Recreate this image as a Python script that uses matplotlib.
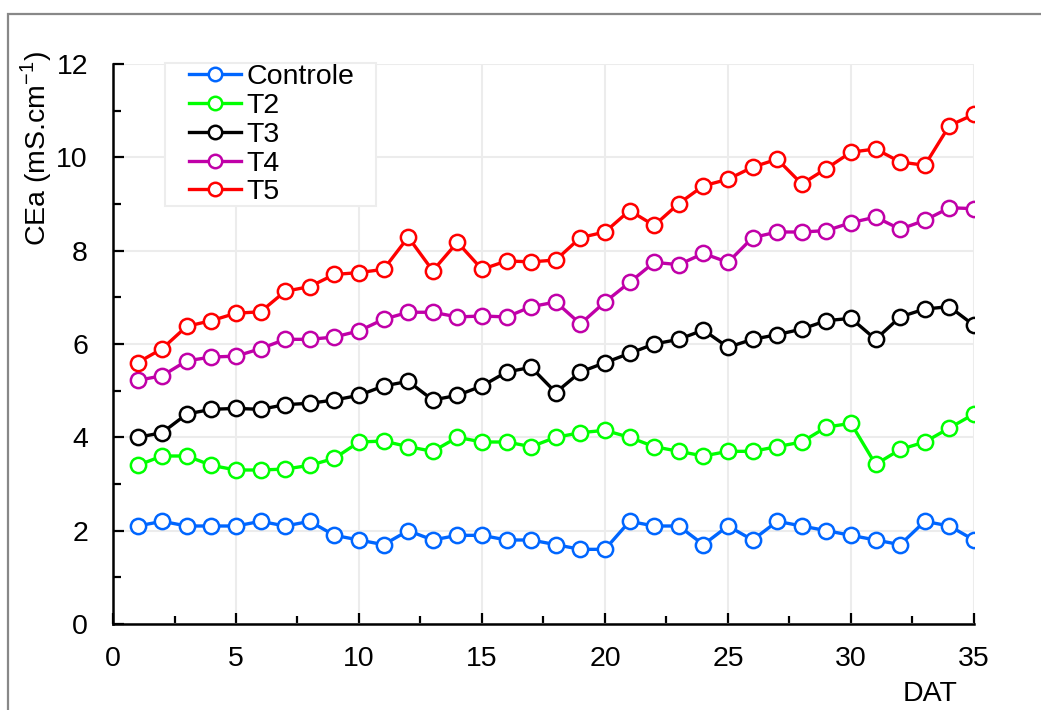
import matplotlib
matplotlib.use("Agg")
import matplotlib.pyplot as plt
from matplotlib.patches import Rectangle

plt.rcParams['font.family'] = ['Liberation Sans', 'DejaVu Sans']

dat = list(range(1, 36))
controle = [2.1, 2.2, 2.1, 2.1, 2.1, 2.2, 2.1, 2.2, 1.9, 1.8, 1.7, 2.0, 1.8, 1.9, 1.9, 1.8, 1.8, 1.7,
            1.6, 1.6, 2.2, 2.1, 2.1, 1.7, 2.1, 1.8, 2.2, 2.1, 2.0, 1.9, 1.8, 1.7, 2.2, 2.1, 1.8]
t2 = [3.4, 3.6, 3.6, 3.4, 3.3, 3.3, 3.32, 3.4, 3.55, 3.9, 3.92, 3.8, 3.7, 4.0, 3.9, 3.9, 3.8, 4.0,
      4.1, 4.15, 4.0, 3.8, 3.7, 3.6, 3.7, 3.7, 3.8, 3.9, 4.22, 4.3, 3.42, 3.74, 3.9, 4.2, 4.5]
t3 = [4.0, 4.1, 4.5, 4.6, 4.62, 4.6, 4.7, 4.73, 4.8, 4.9, 5.1, 5.2, 4.8, 4.9, 5.1, 5.4, 5.5, 4.96,
      5.4, 5.6, 5.8, 6.0, 6.1, 6.3, 5.93, 6.1, 6.2, 6.32, 6.5, 6.55, 6.1, 6.58, 6.75, 6.8, 6.4]
t4 = [5.22, 5.32, 5.64, 5.72, 5.74, 5.9, 6.1, 6.1, 6.15, 6.28, 6.53, 6.68, 6.68, 6.58, 6.6, 6.58, 6.8, 6.9,
      6.43, 6.9, 7.32, 7.75, 7.7, 7.94, 7.75, 8.28, 8.4, 8.4, 8.43, 8.6, 8.72, 8.46, 8.65, 8.92, 8.9]
t5 = [5.6, 5.9, 6.38, 6.5, 6.66, 6.69, 7.13, 7.23, 7.49, 7.53, 7.6, 8.29, 7.57, 8.18, 7.6, 7.78, 7.76, 7.8,
      8.28, 8.4, 8.86, 8.54, 9.01, 9.39, 9.53, 9.79, 9.96, 9.43, 9.76, 10.11, 10.18, 9.9, 9.83, 10.68, 10.92]

series = [("Controle", controle, "#0066ff"),
          ("T2", t2, "#00ff00"),
          ("T3", t3, "#000000"),
          ("T4", t4, "#c000a8"),
          ("T5", t5, "#ff0000")]

W, H = 1041, 710
AX_L, AX_R, AX_T, AX_B = 113, 974, 64, 624
FS = 20.5

fig = plt.figure(figsize=(W/100, H/100), dpi=100)
ax = fig.add_axes([AX_L/W, 1-AX_B/H, (AX_R-AX_L)/W, (AX_B-AX_T)/H])

for name, vals, col in series:
    ax.plot(dat, vals, color=col, lw=2.4, marker='o', ms=11, mfc='white',
            mec=col, mew=1.8, label=name, zorder=3)

ax.set_xlim(0, 35)
ax.set_ylim(0, 12)
ax.set_xticks(range(0, 36, 5))
ax.set_xticks([2.5 + 5*i for i in range(7)], minor=True)
ax.set_yticks(range(0, 13, 2))
ax.set_yticks(range(1, 12, 2), minor=True)
ax.grid(True, which='major', color='#ececec', lw=1.5, zorder=0)
ax.set_axisbelow(True)
for s in ['top', 'right']:
    ax.spines[s].set_visible(False)
for s in ['left', 'bottom']:
    ax.spines[s].set_linewidth(1.8)
ax.tick_params(which='both', direction='in', width=1.6, labelsize=FS)
ax.tick_params(which='major', length=8)
ax.tick_params(which='minor', length=6)
ax.tick_params(axis='y', which='major', pad=18)
ax.tick_params(axis='x', which='major', pad=16)

fig.text(36/W, 1-148/H, "CEa (mS.cm$^{\\mathregular{-1}}$)", fontsize=FS, rotation=90,
         ha='center', va='center')
fig.text(930/W, 1-694/H, "DAT", fontsize=FS, ha='center', va='center')

# legend frame
aw, ah = AX_R-AX_L, AX_B-AX_T
frame = Rectangle(((165-AX_L)/aw, (AX_B-206)/ah), (376-165)/aw, (206-63)/ah,
                  transform=ax.transAxes, facecolor='white', edgecolor='#ededed',
                  lw=1.5, zorder=4, clip_on=False)
ax.add_patch(frame)
leg = ax.legend(loc='upper left', bbox_to_anchor=((189-AX_L)/aw, (AX_B-64)/ah),
                fontsize=FS, frameon=False, borderaxespad=0, borderpad=0,
                labelspacing=0.1, handlelength=1.83, handletextpad=0.2, markerscale=0.88)
leg.set_zorder(5)

fig.patches.append(Rectangle((8/W, -0.1), 1.2, 1 - 14/H + 0.1, transform=fig.transFigure,
                             fill=False, edgecolor='#888888', lw=1.6))

fig.savefig("out.png", dpi=100)
